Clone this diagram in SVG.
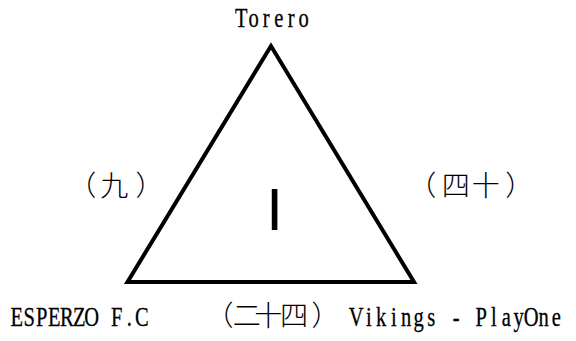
<svg xmlns="http://www.w3.org/2000/svg" width="576" height="341" viewBox="0 0 576 341">
  <style>
    .lat { font-family: "Liberation Serif", "Times New Roman", serif; font-size: 27px; fill: #000; stroke: #000; stroke-width: 0.3; text-anchor: middle; }
    .cjk { font-family: "Noto Sans CJK JP", "Noto Sans CJK SC", sans-serif; font-size: 28px; font-weight: 300; fill: #000; text-anchor: middle; }
    .tri { fill: none; stroke: #000; stroke-width: 4; stroke-linejoin: miter; stroke-miterlimit: 10; }
  </style>
  <rect width="576" height="341" fill="#fff"/>
  <g id="connectors">
    <polygon class="tri" points="271,46 127.5,282 414,282"/>
  </g>
  <g id="node-top">
    <text class="lat" transform="scale(0.76 1)" x="317.43 333.88 350.33 366.78 383.22 399.67" y="27">Torero</text>
  </g>
  <g id="node-center">
    <text x="274.5" y="230" text-anchor="middle" font-family="Liberation Sans, Arial, sans-serif" font-size="60" fill="#000">I</text>
  </g>
  <g id="label-left">
    <text class="cjk" x="82.3 114.2 149.5" y="196">（九）</text>
  </g>
  <g id="label-right">
    <text class="cjk" x="422.3 455.8 485.8 519.3" y="196">（四十）</text>
  </g>
  <g id="node-bottom-left">
    <text class="lat" transform="scale(0.76 1)" x="22.04 38.49 54.93 71.38 87.83 104.28 120.72 137.17 153.62 170.07 186.51" y="326">ESPERZO F.C</text>
  </g>
  <g id="label-bottom">
    <text class="cjk" x="219.5 246.7 268.3 294 325.5" y="326">（二十四）</text>
  </g>
  <g id="node-bottom-right">
    <text class="lat" transform="scale(0.76 1)" x="468.75 485.2 501.64 518.09 534.54 550.99 567.43 583.88 600.33 616.78 633.22 649.67 666.12 682.57 699.01 715.46 731.91" y="326">Vikings - PlayOne</text>
  </g>
</svg>
